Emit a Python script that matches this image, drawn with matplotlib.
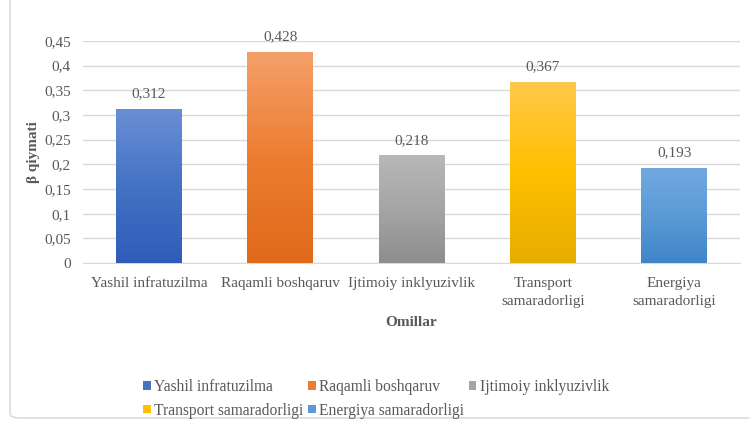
import matplotlib.pyplot as plt
import numpy as np
from matplotlib.colors import LinearSegmentedColormap
from matplotlib.patches import FancyBboxPatch, Patch

# data
omillar = ["Yashil infratuzilma", "Raqamli boshqaruv", "Ijtimoiy inklyuzivlik",
           "Transport samaradorligi", "Energiya samaradorligi"]
tick_labels = ["Yashil infratuzilma", "Raqamli boshqaruv", "Ijtimoiy inklyuzivlik",
               "Transport\nsamaradorligi", "Energiya\nsamaradorligi"]
beta = [0.312, 0.428, 0.218, 0.367, 0.193]
value_labels = ["0,312", "0,428", "0,218", "0,367", "0,193"]
yticks = [0, 0.05, 0.1, 0.15, 0.2, 0.25, 0.3, 0.35, 0.4, 0.45]
ytick_labels = ["0", "0,05", "0,1", "0,15", "0,2", "0,25", "0,3", "0,35", "0,4", "0,45"]

# gradient stops (top, middle, bottom) per bar
grads = [("#6b8fd6", "#4472c4", "#2f5cb8"),
         ("#f4a06a", "#ed7d31", "#e0691a"),
         ("#b8b8b8", "#a5a5a5", "#8e8e8e"),
         ("#ffc84a", "#ffc000", "#e6ae00"),
         ("#72a8e0", "#5b9bd5", "#3f85c9")]

text_col = "#595959"
grid_col = "#d9d9d9"

plt.rcParams['font.family'] = ['Liberation Serif', 'DejaVu Serif']

fig = plt.figure(figsize=(7.49, 4.21), dpi=100)
ax = fig.add_axes([0.111, 0.375, 0.877, 0.528])

x = np.arange(len(beta))
bars = ax.bar(x, beta, width=0.5, color="none", zorder=3)

for b, g in zip(bars, grads):
    cmap = LinearSegmentedColormap.from_list("g", [g[2], g[1], g[0]])
    x0, y0 = b.get_x(), b.get_y()
    w, h = b.get_width(), b.get_height()
    grad = np.linspace(0, 1, 256).reshape(-1, 1)
    im = ax.imshow(grad, cmap=cmap, origin="lower", aspect="auto",
                   extent=[x0, x0 + w, y0, y0 + h], zorder=3)
    im.set_clip_path(b)

for xi, v, lab in zip(x, beta, value_labels):
    ax.annotate(lab, (xi, v), xytext=(0, 6), textcoords="offset points",
                ha="center", va="bottom", fontsize=11, color=text_col)

ax.set_xlim(-0.5, len(beta) - 0.5)
ax.set_ylim(0, 0.45)
ax.set_yticks(yticks)
ax.set_yticklabels(ytick_labels, fontsize=11, color=text_col)
ax.set_xticks(x)
ax.set_xticklabels(tick_labels, fontsize=11, color=text_col, linespacing=1.5)
ax.tick_params(axis="x", length=0, pad=10)
ax.tick_params(axis="y", length=0, pad=9)
ax.grid(axis="y", color=grid_col, linewidth=1, zorder=0)
for s in ["top", "right", "left"]:
    ax.spines[s].set_visible(False)
ax.spines["bottom"].set_color(grid_col)
ax.set_axisbelow(True)

ax.set_xlabel("Omillar", fontsize=11, fontweight="bold", color=text_col, labelpad=6)
ax.set_ylabel("β qiymati", fontsize=11, fontweight="bold", color=text_col, labelpad=3)

# legend fills column by column, so order handles to read row-wise
order = [0, 3, 1, 4, 2]
handles = [Patch(facecolor=grads[i][1], edgecolor="none") for i in order]
labels = [omillar[i] for i in order]
fig.legend(handles, labels, loc="upper left", bbox_to_anchor=(0.183, 0.115),
           ncol=3, frameon=False, fontsize=11.2, labelcolor=text_col,
           handlelength=0.5, handleheight=0.5, handletextpad=0.2,
           columnspacing=0.3, labelspacing=0.5, borderaxespad=0)

frame = FancyBboxPatch((10 / 749, 3 / 421), 1.2, 1.2, boxstyle="round,pad=0,rounding_size=0.012",
                       transform=fig.transFigure, facecolor="none",
                       edgecolor="#dcdce0", linewidth=1.2, zorder=0)
fig.patches.append(frame)

fig.savefig("out.png", dpi=100)
